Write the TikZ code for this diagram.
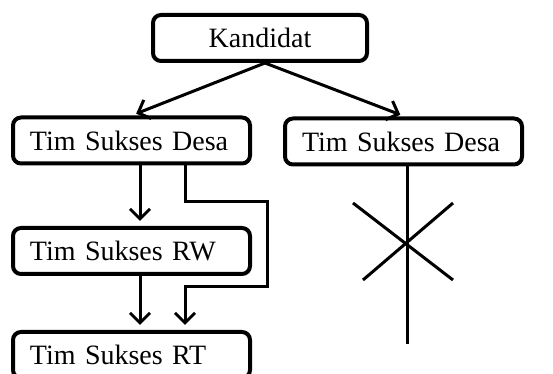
\documentclass[tikz,border=0pt]{standalone}
\usepackage{fontspec}
\setmainfont{Liberation Serif}
\usetikzlibrary{arrows.meta}

\begin{document}
\begin{tikzpicture}[x=0.5pt, y=-0.5pt,
    box/.style={draw, line width=2pt, rounded corners=4pt, minimum height=23pt,
        inner xsep=8.5pt, font=\fontsize{14}{16}\selectfont},
    sidebox/.style={box, text width=101.5pt, align=left},
    line/.style={line width=1.5pt},
    arrow/.style={line, -{Straight Barb[length=5pt, width=10pt, line width=1.5pt]}, shorten >=2.5pt}]
        \useasboundingbox (0,0) rectangle (553,374);
        \clip (0,0) rectangle (553,374);

        % Boxes
        \node[box, minimum width=107pt] (kandidat) at (260,38) {Kandidat};
        \node[sidebox] (desaL) at (131.5,140.5) {Tim Sukses Desa};
        \node[sidebox] (desaR) at (403.5,141.5) {Tim Sukses Desa};
        \node[sidebox] (rw) at (131.5,251) {Tim Sukses RW};
        \node[sidebox] (rt) at (131.5,355) {Tim Sukses RT};

        % Kandidat to both Desa
        \draw[arrow] ([xshift=2.5pt]kandidat.south) -- ([yshift=0pt]desaL.north);
        \draw[arrow] ([xshift=2.5pt]kandidat.south) -- ([xshift=0.75pt]desaR.north);

        % Left branch
        \coordinate (loopR) at (267,202);
        \coordinate (loopB) at (267,287);
        \draw[arrow] ([xshift=4.25pt]desaL.south) -- ([xshift=4.25pt]rw.north);
        \draw[arrow] ([xshift=4.25pt]rw.south) -- ([xshift=4.25pt]rt.north);
        \draw[arrow] ([xshift=26.75pt]desaL.south) |- (loopR) -- (loopB) -| ([xshift=26.75pt]rt.north);

        % Right branch, crossed out
        \coordinate (cutEnd) at (407,344);
        \draw[line] ([xshift=1.75pt]desaR.south) -- (cutEnd);
        \draw[line] (353,203) -- (453,280);
        \draw[line] (453,203) -- (363,280);
    \end{tikzpicture}
\end{document}
